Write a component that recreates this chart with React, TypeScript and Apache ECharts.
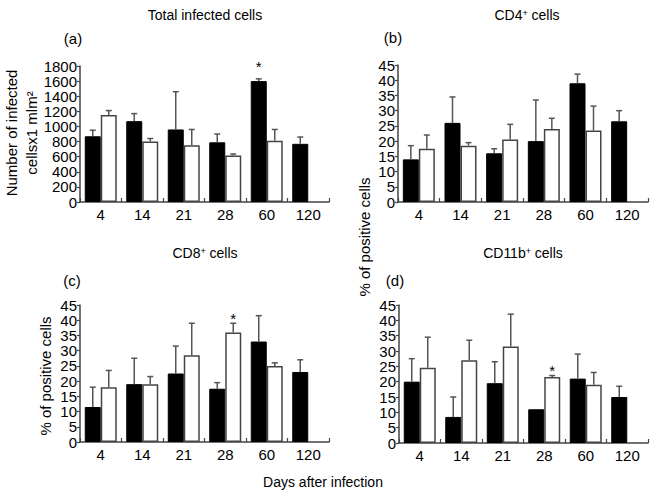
import React, { useEffect, useRef } from 'react';
import * as echarts from 'echarts';

const days = ['4', '14', '21', '28', '60', '120'];

// Panel (a) Total infected cells
const aBlack = [870, 1070, 960, 790, 1600, 770];
const aBlackErr = [950, 1170, 1460, 900, 1630, 860];
const aWhite = [1150, 800, 750, 615, 810, null];
const aWhiteErr = [1210, 840, 960, 635, 960, null];

// Panel (b) CD4+ cells
const bBlack = [14, 26, 16, 20, 39, 26.5];
const bBlackErr = [18.5, 34.5, 17.5, 33.5, 42, 30];
const bWhite = [17.5, 18.5, 20.5, 24, 23.5, null];
const bWhiteErr = [22, 19.5, 25.5, 27.5, 31.5, null];

// Panel (c) CD8+ cells
const cBlack = [11.5, 19, 22.5, 17.5, 33, 23];
const cBlackErr = [18, 27.5, 31.5, 19.5, 41.5, 27];
const cWhite = [18, 19, 28.5, 36, 25, null];
const cWhiteErr = [23.5, 21.5, 39, 39, 26, null];

// Panel (d) CD11b+ cells
const dBlack = [20, 8.5, 19.5, 11, 21, 15];
const dBlackErr = [27.5, 15, 26.5, null, 29, 18.5];
const dWhite = [24.5, 27, 31.5, 21.5, 19, null];
const dWhiteErr = [34.5, 33.5, 42, 22, 23, null];

// Significance stars: [category index, side (-1 black, 1 white), y value]
const aStars = [[4, -1, 1800]];
const bStars: number[][] = [];
const cStars = [[3, 1, 40.6]];
const dStars = [[3, 1, 23.8]];

const yMaxA = 1800;
const yIntA = 200;
const yMaxPct = 45;
const yIntPct = 5;

const FONT = 'Liberation Sans, Arial, Helvetica, sans-serif';
const AXIS = '#444';

export default function App() {
  const ref = useRef<HTMLDivElement>(null);
  useEffect(() => {
    if (!ref.current) return;
    const chart = echarts.init(ref.current, undefined, { renderer: 'svg' });

    const panels = [
      { black: aBlack, blackErr: aBlackErr, white: aWhite, whiteErr: aWhiteErr, stars: aStars, max: yMaxA, interval: yIntA },
      { black: bBlack, blackErr: bBlackErr, white: bWhite, whiteErr: bWhiteErr, stars: bStars, max: yMaxPct, interval: yIntPct },
      { black: cBlack, blackErr: cBlackErr, white: cWhite, whiteErr: cWhiteErr, stars: cStars, max: yMaxPct, interval: yIntPct },
      { black: dBlack, blackErr: dBlackErr, white: dWhite, whiteErr: dWhiteErr, stars: dStars, max: yMaxPct, interval: yIntPct },
    ];
    const grids = [
      { left: 80, top: 66, width: 249, height: 136 },
      { left: 398, top: 65, width: 250, height: 137 },
      { left: 80, top: 305, width: 249, height: 137 },
      { left: 399, top: 305, width: 249, height: 138 },
    ];
    const BW = 16;

    const xAxis: any[] = [];
    const yAxis: any[] = [];
    const series: any[] = [];

    panels.forEach((p, i) => {
      xAxis.push({
        gridIndex: i,
        type: 'category',
        data: days,
        axisLine: { show: true, lineStyle: { color: AXIS, width: 1.5 } },
        axisTick: { show: true, inside: true, length: 4, lineStyle: { color: AXIS, width: 1.2 } },
        axisLabel: { color: '#000', fontSize: 15, fontFamily: FONT, margin: 5 },
        splitLine: { show: false },
      });
      yAxis.push({
        gridIndex: i,
        type: 'value',
        min: 0,
        max: p.max,
        interval: p.interval,
        axisLine: { show: true, lineStyle: { color: AXIS, width: 1.5 } },
        axisTick: { show: true, inside: false, length: 3, lineStyle: { color: AXIS, width: 1.2 } },
        axisLabel: {
          color: '#000',
          fontSize: 15,
          lineHeight: 12,
          fontFamily: FONT,
          margin: 3,
          formatter: (v: number) => String(v),
        },
        splitLine: { show: false },
      });
      series.push({
        type: 'bar',
        xAxisIndex: i,
        yAxisIndex: i,
        data: p.black,
        barWidth: BW,
        barGap: '0%',
        itemStyle: { color: '#000', borderColor: '#000', borderWidth: 1 },
      });
      series.push({
        type: 'bar',
        xAxisIndex: i,
        yAxisIndex: i,
        data: p.white.map((v) => (v == null ? '-' : v)),
        barWidth: BW,
        barGap: '0%',
        itemStyle: { color: '#fff', borderColor: '#444', borderWidth: 1.5 },
      });
      const errData: number[][] = [];
      p.black.forEach((v, k) => {
        const e = p.blackErr[k];
        if (v != null && e != null) errData.push([k, v, e, -1]);
      });
      p.white.forEach((v, k) => {
        const e = p.whiteErr[k];
        if (v != null && e != null) errData.push([k, v as number, e as number, 1]);
      });
      series.push({
        type: 'custom',
        xAxisIndex: i,
        yAxisIndex: i,
        data: errData,
        clip: false,
        z: 5,
        renderItem: (params: any, api: any) => {
          const idx = api.value(0);
          const v = api.value(1);
          const e = api.value(2);
          const side = api.value(3);
          const p0 = api.coord([idx, v]);
          const p1 = api.coord([idx, e]);
          const x = p0[0] + side * (BW / 2);
          const st = { stroke: '#555', lineWidth: 1.5 };
          return {
            type: 'group',
            children: [
              { type: 'line', shape: { x1: x, y1: p0[1], x2: x, y2: p1[1] }, style: st },
              { type: 'line', shape: { x1: x - 3, y1: p1[1], x2: x + 3, y2: p1[1] }, style: st },
            ],
          };
        },
      });
      if (p.stars.length) {
        series.push({
          type: 'custom',
          xAxisIndex: i,
          yAxisIndex: i,
          data: p.stars,
          clip: false,
          z: 6,
          renderItem: (params: any, api: any) => {
            const idx = api.value(0);
            const side = api.value(1);
            const yv = api.value(2);
            const pt = api.coord([idx, yv]);
            return {
              type: 'text',
              x: pt[0] + side * (BW / 2),
              y: pt[1],
              style: {
                text: '*',
                fill: '#000',
                font: `15px ${FONT}`,
                align: 'center',
                verticalAlign: 'middle',
                textAlign: 'center',
                textVerticalAlign: 'middle',
              },
            };
          },
        });
      }
    });

    const txt = (x: number, y: number, text: string, size = 14, rot = 0, rich?: any) => ({
      type: 'text',
      x,
      y,
      rotation: rot,
      style: {
        text,
        fill: '#000',
        font: `${size}px ${FONT}`,
        fontSize: size,
        fontFamily: FONT,
        align: 'center',
        verticalAlign: 'middle',
        textAlign: 'center',
        textVerticalAlign: 'middle',
        rich,
      },
    });
    const supRich = { sup: { fontSize: 9, fontFamily: FONT, verticalAlign: 'top', fill: '#000' } };

    chart.setOption({
      animation: false,
      backgroundColor: '#fff',
      grid: grids.map((g) => ({ ...g, containLabel: false })),
      xAxis,
      yAxis,
      series,
      graphic: [
        txt(205, 15, 'Total infected cells'),
        txt(527, 15, 'CD4{sup|+} cells', 14, 0, supRich),
        txt(205, 253, 'CD8{sup|+} cells', 14, 0, supRich),
        txt(523, 253, 'CD11b{sup|+} cells', 14, 0, supRich),
        txt(73, 38, '(a)', 15),
        txt(393, 37, '(b)', 15),
        txt(72, 280, '(c)', 15),
        txt(395, 280, '(d)', 15),
        txt(11, 133, 'Number of infected', 15, Math.PI / 2),
        txt(31, 133, 'cellsx1 mlm²', 15, Math.PI / 2),
        txt(45, 376, '% of positive cells', 15, Math.PI / 2),
        txt(364, 237, '% of positive cells', 15, Math.PI / 2),
        txt(323, 482, 'Days after infection', 14),
      ],
    });
    return () => chart.dispose();
  }, []);
  return <div ref={ref} style={{ position: 'absolute', left: 0, top: 0, width: 650, height: 494 }} />;
}
